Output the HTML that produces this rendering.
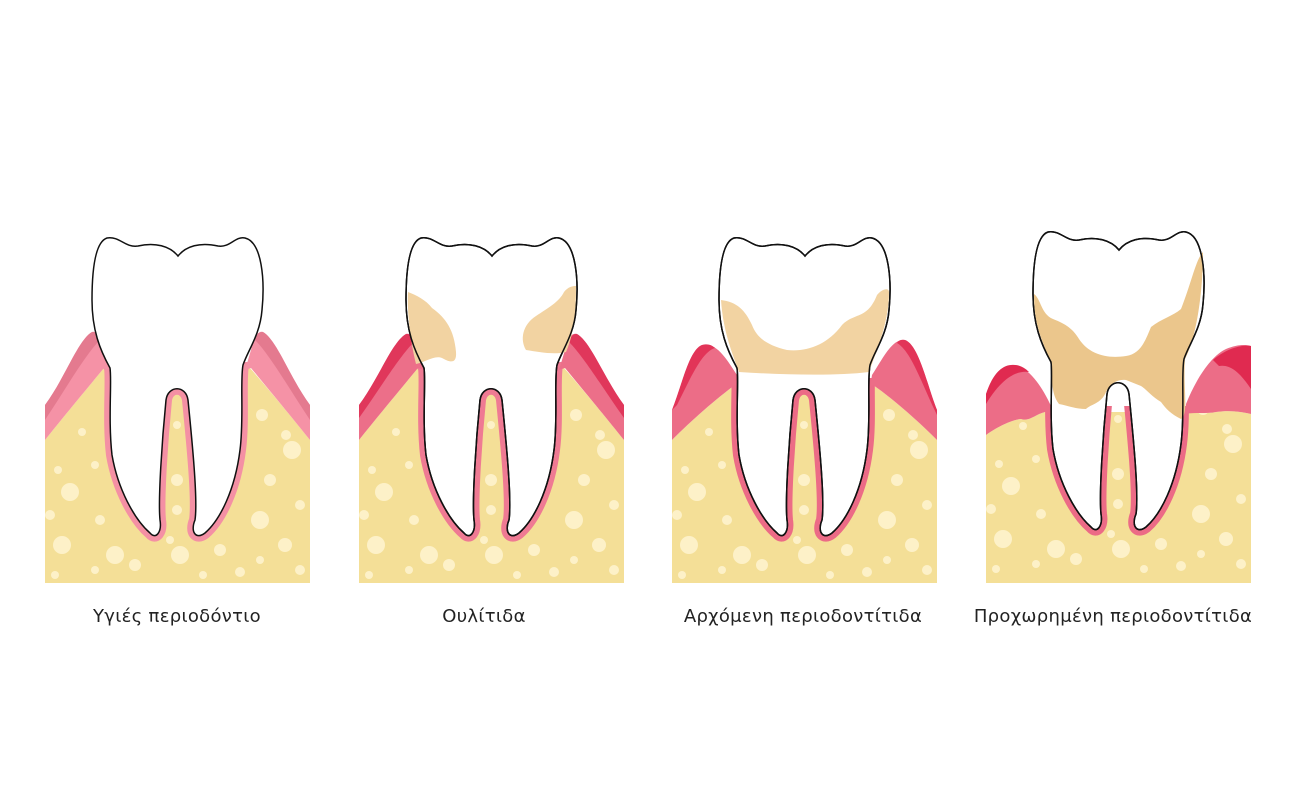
<!DOCTYPE html>
<html><head><meta charset="utf-8"><style>
html,body{margin:0;padding:0;background:#fff;width:1300px;height:805px;overflow:hidden}
svg{position:absolute;left:0;top:0}
.lb{position:absolute;top:606px;font-family:"DejaVu Sans","Liberation Sans",sans-serif;font-size:18px;color:#222;white-space:nowrap;transform:translateX(-50%);letter-spacing:0.3px}
</style></head><body>
<svg width="1300" height="805" viewBox="0 0 1300 805">
<defs>
<path id="tooth" d="M107,238 C120,236 125,248 138,246 C155,242 170,246 178,256 C186,246 200,242 218,246 C230,248 235,236 245,238 C262,242 265,280 262,310 C260,335 248,350 243,365 C240,380 244,420 240,450 C235,490 220,520 205,533 C196,540 190,532 195,520 C198,500 192,440 188,400 C186,385 168,385 166,400 C162,440 158,500 160,520 C162,532 156,540 150,533 C135,520 118,490 112,455 C108,420 112,380 110,368 C100,350 92,330 92,300 C92,270 95,242 107,238 Z"/>
<g id="bub" fill="#fdf1c8">
<circle cx="70" cy="492" r="9"/><circle cx="58" cy="470" r="4"/><circle cx="62" cy="545" r="9"/><circle cx="100" cy="520" r="5"/><circle cx="95" cy="465" r="4"/><circle cx="115" cy="555" r="9"/><circle cx="50" cy="515" r="5"/><circle cx="95" cy="570" r="4"/><circle cx="135" cy="565" r="6"/><circle cx="177" cy="480" r="6"/><circle cx="177" cy="425" r="4"/><circle cx="177" cy="510" r="5"/><circle cx="170" cy="540" r="4"/><circle cx="180" cy="555" r="9"/><circle cx="220" cy="550" r="6"/><circle cx="260" cy="520" r="9"/><circle cx="292" cy="450" r="9"/><circle cx="270" cy="480" r="6"/><circle cx="300" cy="505" r="5"/><circle cx="285" cy="545" r="7"/><circle cx="262" cy="415" r="6"/><circle cx="286" cy="435" r="5"/><circle cx="240" cy="572" r="5"/><circle cx="300" cy="570" r="5"/><circle cx="203" cy="575" r="4"/><circle cx="260" cy="560" r="4"/><circle cx="55" cy="575" r="4"/><circle cx="82" cy="432" r="4"/>
</g>
<clipPath id="c1"><rect x="45" y="362" width="265" height="230"/></clipPath>
<clipPath id="c3"><rect x="45" y="378" width="265" height="215"/></clipPath>
<clipPath id="c4"><rect x="45" y="412" width="265" height="180"/></clipPath>
</defs>

<!-- Panel 1 -->
<g>
<path d="M45,440 C65,415 90,385 104,368 L250,368 C265,385 290,415 310,440 L310,583 L45,583 Z" fill="#f4df97"/>
<use href="#tooth" fill="none" stroke="#f490a4" stroke-width="12" clip-path="url(#c1)"/>
<use href="#bub"/>
<path d="M45,405 C65,378 78,340 92,332 C98,330 102,340 104,350 L110,370 L104,368 C90,385 65,415 45,440 Z" fill="#f592a6"/>
<path d="M45,405 C65,378 78,340 92,332 C96,331 99,336 100,340 C85,355 65,390 45,420 Z" fill="#e47a8f"/>
<path d="M310,405 C290,378 277,340 263,332 C257,330 253,340 251,350 L245,370 L251,368 C265,385 290,415 310,440 Z" fill="#f592a6"/>
<path d="M310,405 C290,378 277,340 263,332 C259,331 256,336 255,340 C270,355 290,390 310,420 Z" fill="#e47a8f"/>
<use href="#tooth" fill="#fff" stroke="#111" stroke-width="1.5"/>
</g>

<!-- Panel 2 -->
<g transform="translate(314,0)">
<path d="M45,440 C65,415 90,385 104,368 L250,368 C265,385 290,415 310,440 L310,583 L45,583 Z" fill="#f4df97"/>
<use href="#tooth" fill="none" stroke="#ef7a93" stroke-width="12" clip-path="url(#c1)"/>
<use href="#bub"/>
<path d="M45,405 C65,378 78,342 92,334 C98,332 102,340 104,350 L110,370 L104,368 C90,385 65,415 45,440 Z" fill="#ec6f89"/>
<path d="M45,405 C65,378 78,342 92,334 C96,333 99,338 100,342 C85,357 65,390 45,418 Z" fill="#e0375b"/>
<path d="M310,405 C290,378 277,342 263,334 C257,332 253,340 251,350 L245,370 L251,368 C265,385 290,415 310,440 Z" fill="#ec6f89"/>
<path d="M310,405 C290,378 277,342 263,334 C259,333 256,338 255,342 C270,357 290,390 310,418 Z" fill="#e0375b"/>
<use href="#tooth" fill="#fff" stroke="#111" stroke-width="1.5"/>
<path d="M94,292 C102,295 112,300 118,308 C132,318 140,330 142,352 C143,365 135,362 128,358 C120,355 112,362 102,364 C96,340 93,310 94,292 Z" fill="#f2d3a2"/>
<path d="M262,286 C262,300 262,330 252,352 C240,355 225,352 212,350 C206,340 208,325 222,316 C234,308 245,302 250,292 C254,287 258,286 262,286 Z" fill="#f2d3a2"/>
<use href="#tooth" fill="none" stroke="#111" stroke-width="1.5"/>
</g>

<!-- Panel 3 -->
<g transform="translate(627,0)">
<path d="M45,440 C65,420 90,398 108,385 L246,385 C265,398 290,420 310,440 L310,583 L45,583 Z" fill="#f4df97"/>
<use href="#tooth" fill="none" stroke="#ec6b86" stroke-width="12" clip-path="url(#c3)"/>
<use href="#bub"/>
<path d="M45,410 C55,385 62,350 75,345 C90,342 100,360 110,375 L112,387 L108,385 C90,398 65,420 45,440 Z" fill="#ec6d87"/>
<path d="M45,410 C55,385 62,350 75,345 C82,343 86,346 88,348 C75,352 65,375 50,405 Z" fill="#e23458"/>
<path d="M310,410 C300,385 292,345 278,340 C265,338 255,360 245,375 L243,387 L246,385 C265,398 290,420 310,440 Z" fill="#ec6d87"/>
<path d="M310,410 C300,385 292,345 278,340 C274,339 271,341 270,343 C285,352 295,385 310,415 Z" fill="#e23458"/>
<use href="#tooth" fill="#fff" stroke="#111" stroke-width="1.5"/>
<path d="M94,300 C110,302 118,310 125,325 C130,338 140,345 160,350 C180,352 200,345 215,325 C228,312 240,320 250,295 C256,288 262,288 262,292 C262,320 252,345 242,372 C210,376 160,375 112,372 C104,350 96,330 94,300 Z" fill="#f2d3a2"/>
<use href="#tooth" fill="none" stroke="#111" stroke-width="1.5"/>
</g>

<!-- Panel 4 -->
<g transform="translate(941,-6)">
<path d="M45,441 C60,430 75,425 80,425 C88,428 95,420 104,418 L244,418 C255,418 265,420 275,418 C290,416 300,418 310,420 L310,589 L45,589 Z" fill="#f4df97"/>
<use href="#tooth" fill="none" stroke="#ec6b86" stroke-width="12" clip-path="url(#c4)"/>
<use href="#bub"/>
<path d="M45,400 C50,385 58,372 70,371 C85,370 100,390 110,412 L110,420 L104,418 C95,420 88,428 80,425 C75,425 60,430 45,441 Z" fill="#ec6d87"/>
<path d="M45,400 C50,385 58,372 70,371 C78,370 84,374 88,378 C75,376 60,385 45,410 Z" fill="#e02a50"/>
<path d="M310,352 L310,420 C300,418 290,416 275,418 C265,420 255,418 244,420 L245,410 C255,385 270,362 285,355 C295,351 303,350 310,352 Z" fill="#ec6d87"/>
<path d="M310,352 L310,395 C300,380 290,370 278,372 L272,366 C283,356 300,350 310,352 Z" fill="#e02a50"/>
<use href="#tooth" fill="#fff" stroke="#111" stroke-width="1.5"/>
<path d="M93,300 C100,305 100,320 112,325 C125,330 132,335 138,345 C148,360 165,365 185,362 C200,360 205,345 210,333 C220,325 232,322 240,315 C250,290 255,265 262,258 C262,300 255,345 244,365 C242,395 248,420 240,425 C230,420 225,415 220,408 C210,402 205,395 200,392 L185,386 C178,385 170,388 165,398 C160,410 150,410 145,415 C135,415 128,412 118,410 C110,400 111,385 110,368 C100,345 93,330 93,300 Z" fill="#ebc68c"/>
<use href="#tooth" fill="none" stroke="#111" stroke-width="1.5"/>
</g>
</svg>
<div class="lb" style="left:177px">Υγιές περιοδόντιο</div>
<div class="lb" style="left:484px">Ουλίτιδα</div>
<div class="lb" style="left:803px">Αρχόμενη περιοδοντίτιδα</div>
<div class="lb" style="left:1113px">Προχωρημένη περιοδοντίτιδα</div>
</body></html>
